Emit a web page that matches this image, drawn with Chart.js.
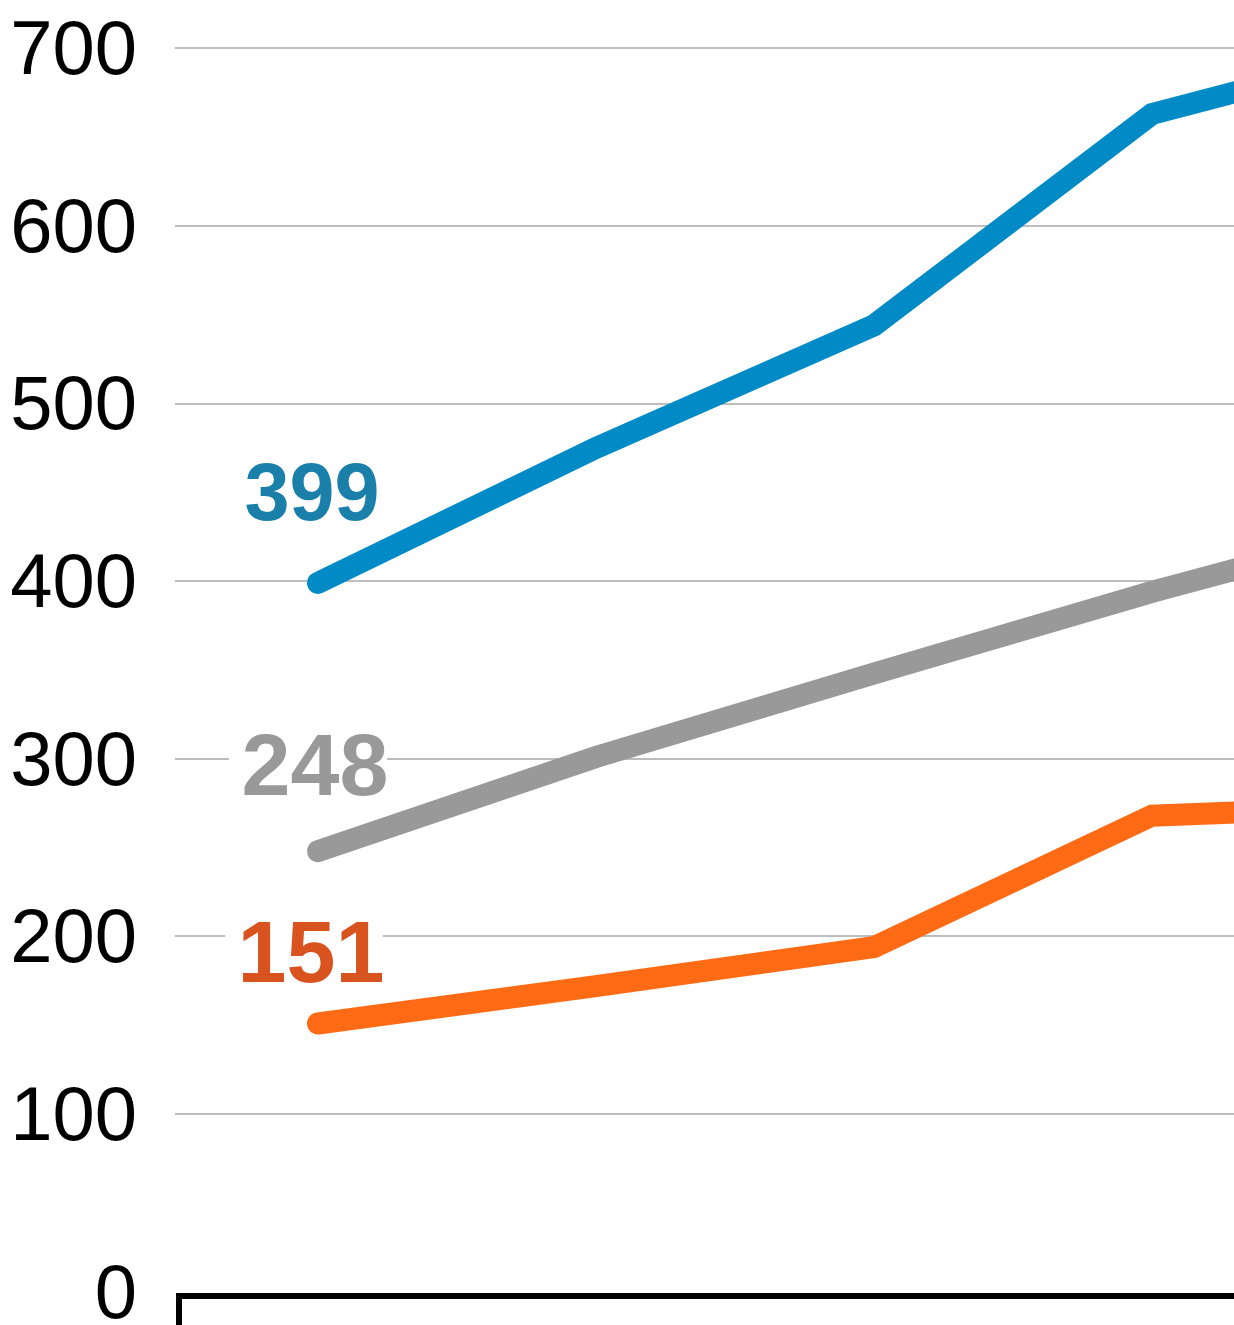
<!DOCTYPE html>
<html lang="en">
<head>
    <meta charset="UTF-8">
    <title>Line chart</title>
    <script src="https://cdn.jsdelivr.net/npm/chart.js"></script>
    <style>
        html, body {
            margin: 0;
            padding: 0;
            width: 1234px;
            height: 1325px;
            overflow: hidden;
            background: #fff;
        }
        #wrap {
            position: absolute;
            left: 0;
            top: -213px;
            width: 1589px;
            height: 1609px;
        }
    </style>
</head>
<body>
    <div id="wrap">
        <canvas id="chart" width="1589" height="1609"></canvas>
    </div>

    <script>
        // data
        const categories = ['1', '2', '3', '4', '5'];
        const blueValues = [399, 475, 544, 663, 704];
        const grayValues = [248, 301, 348, 394, 436];
        const orangeValues = [151, 172, 194, 268, 274];
        const yTicks = [0, 100, 200, 300, 400, 500, 600, 700, 800];

        // start-value labels: colour, font size, offset from first point
        const startLabels = [
            { color: '#1a7fa9', size: 81, dx: -6, dy: -63 },
            { color: '#999999', size: 88, dx: -3, dy: -56 },
            { color: '#d9531f', size: 88, dx: -7, dy: -41 }
        ];

        const startLabelPlugin = {
            id: 'startLabels',
            afterDatasetsDraw(chart) {
                const ctx = chart.ctx;
                ctx.save();
                chart.data.datasets.forEach((ds, i) => {
                    const pt = chart.getDatasetMeta(i).data[0];
                    const st = startLabels[i];
                    const x = pt.x + st.dx;
                    const y = pt.y + st.dy;
                    ctx.font = 'bold ' + st.size + 'px "Liberation Sans", Arial, sans-serif';
                    ctx.fillStyle = '#fff';
                    ctx.fillRect(x - 86, y - st.size * 0.76, 158, st.size * 0.8);
                    ctx.fillStyle = st.color;
                    ctx.textAlign = 'center';
                    ctx.textBaseline = 'alphabetic';
                    ctx.fillText(String(ds.data[0]), x, y);
                });
                ctx.restore();
            }
        };

        function lineSet(values, color) {
            return {
                data: values,
                borderColor: color,
                borderWidth: 22,
                borderJoinStyle: 'miter',
                borderCapStyle: 'round',
                pointRadius: 0,
                tension: 0,
                fill: false
            };
        }

        new Chart(document.getElementById('chart'), {
            type: 'line',
            data: {
                labels: categories,
                datasets: [
                    lineSet(blueValues, '#008bc6'),
                    lineSet(grayValues, '#999999'),
                    lineSet(orangeValues, '#ff6b14')
                ]
            },
            options: {
                responsive: false,
                animation: false,
                layout: { padding: { top: 60, right: 20, bottom: 0, left: 0 } },
                plugins: {
                    legend: { display: false },
                    tooltip: { enabled: false }
                },
                scales: {
                    x: {
                        offset: true,
                        grid: {
                            offset: true,
                            drawOnChartArea: false,
                            drawTicks: true,
                            tickLength: 60,
                            lineWidth: 6,
                            color: c => c.index === 0 ? '#000' : 'rgba(0,0,0,0)'
                        },
                        border: { display: true, color: '#000', width: 6 },
                        ticks: { display: false },
                        afterFit(scale) { scale.height = 100; }
                    },
                    y: {
                        min: -2.4,
                        max: 800,
                        afterBuildTicks(scale) {
                            scale.ticks = yTicks.map(v => ({ value: v }));
                        },
                        afterFit(scale) { scale.width = 179; },
                        grid: {
                            color: c => c.tick && c.tick.value === 0 ? 'rgba(0,0,0,0)' : '#bdbdbd',
                            lineWidth: 2,
                            drawTicks: true,
                            tickLength: 4
                        },
                        border: { display: false },
                        ticks: {
                            padding: 38,
                            labelOffset: 5,
                            color: '#000',
                            font: { family: '"Liberation Sans", Arial, sans-serif', size: 76 }
                        }
                    }
                }
            },
            plugins: [startLabelPlugin]
        });
    </script>
</body>
</html>
